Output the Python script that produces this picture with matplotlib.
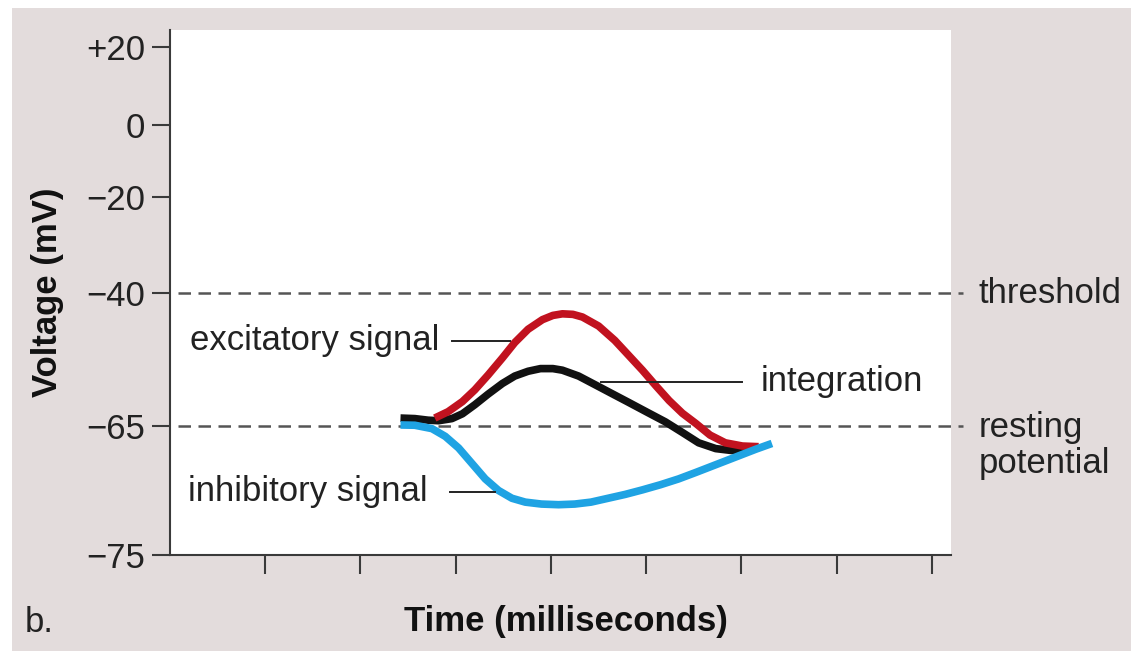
import matplotlib
matplotlib.use("Agg")
import matplotlib.pyplot as plt
from matplotlib.patches import Rectangle
import numpy as np

plt.rcParams['font.family'] = ['Liberation Sans', 'DejaVu Sans']

# tijd (willekeurige eenheden, 1 eenheid = 1 tick) en spanning in mV
exc_t = [2.78, 2.92, 3.07, 3.20, 3.34, 3.49, 3.62, 3.76, 3.91, 4.02, 4.12, 4.23, 4.33, 4.50, 4.67,
         4.81, 4.96, 5.10, 5.24, 5.38, 5.52, 5.67, 5.83, 6.01, 6.18]
exc_v = [-63.5, -62.3, -60.4, -58.2, -55.4, -52.2, -49.3, -46.8, -45.0, -44.2, -43.9, -44.0, -44.5, -46.2, -48.9,
         -51.6, -54.5, -57.4, -60.2, -62.6, -64.5, -65.7, -66.3, -66.55, -66.6]

int_t = [2.42, 2.57, 2.71, 2.82, 2.96, 3.07, 3.20, 3.34, 3.49, 3.62, 3.76, 3.89, 4.02, 4.12, 4.29,
         4.46, 4.64, 4.81, 5.02, 5.20, 5.38, 5.55, 5.73, 5.90, 6.07]
int_v = [-63.5, -63.6, -63.9, -64.0, -63.6, -62.7, -61.0, -59.0, -57.0, -55.6, -54.7, -54.2, -54.2, -54.5, -55.6,
         -57.2, -58.9, -60.5, -62.5, -64.2, -65.5, -66.3, -66.75, -66.9, -66.75]

inh_t = [2.42, 2.57, 2.75, 2.89, 3.03, 3.17, 3.31, 3.45, 3.59, 3.73, 3.90, 4.08, 4.25, 4.42, 4.60,
         4.78, 4.96, 5.15, 5.34, 5.52, 5.73, 5.94, 6.15, 6.32]
inh_v = [-64.8, -64.85, -65.2, -65.8, -66.7, -67.9, -69.1, -70.0, -70.6, -70.9, -71.05, -71.1, -71.05, -70.9, -70.6,
         -70.3, -69.95, -69.55, -69.1, -68.6, -68.0, -67.4, -66.8, -66.35]

threshold = -40
resting = -65

y_ticks = [20, 0, -20, -40, -65, -75]
y_labels = ['+20', '0', '\u221220', '\u221240', '\u221265', '\u221275']
x_ticks = [1, 2, 3, 4, 5, 6, 7, 8]

# schematische (niet-lineaire) y-as
nodes_v = [-75, -65, -40, -20, 0, 20, 40]
nodes_p = [0, 129, 262, 358, 430, 508, 586]


def forward(v):
    return np.interp(v, nodes_v, nodes_p)


def inverse(p):
    return np.interp(p, nodes_p, nodes_v)


W, H = 1131, 651
fig = plt.figure(figsize=(W / 100, H / 100), dpi=100, facecolor='white')
fig.patches.append(Rectangle((12 / W, 0), 1, (H - 8) / H, transform=fig.transFigure,
                             facecolor='#e3dcdc', edgecolor='none', zorder=-10))

ax = fig.add_axes([170 / W, (H - 555) / H, (951 - 170) / W, (555 - 30) / H])
ax.set_facecolor('white')
ax.set_yscale('function', functions=(forward, inverse))
ax.set_xlim(0, 8.2)
ax.set_ylim(-75, 24.4)

for s in ['top', 'right']:
    ax.spines[s].set_visible(False)
for s in ['left', 'bottom']:
    ax.spines[s].set_color('#3a3a3a')
    ax.spines[s].set_linewidth(1.5)

ax.set_yticks(y_ticks)
ax.set_yticklabels(y_labels)
ax.yaxis.set_minor_locator(matplotlib.ticker.NullLocator())
ax.set_xticks(x_ticks)
ax.set_xticklabels([])
ax.tick_params(axis='y', direction='out', length=13, width=1.5, color='#3a3a3a',
               labelsize=25, pad=5, labelcolor='#222222')
ax.tick_params(axis='x', direction='out', length=14, width=1.5, color='#3a3a3a')

# drempel en rustpotentiaal
ax.hlines([threshold, resting], 0.08, 8.33, colors='#555555', linewidth=1.8,
          linestyles=(0, (5, 3)), clip_on=False, zorder=1)

kw = dict(linewidth=5.5, solid_capstyle='butt', solid_joinstyle='round')
ax.plot(int_t, int_v, color='#111111', zorder=3, **kw)
ax.plot(exc_t, exc_v, color='#c1121f', zorder=4, **kw)
ax.plot(inh_t, inh_v, color='#1fa3e3', zorder=5, **kw)

# labels met aanwijslijntjes
fs = 25
ax.text(0.21, -49.0, 'excitatory signal', fontsize=fs, va='center', ha='left', color='#222222')
ax.plot([2.96, 3.57], [-49.0, -49.0], color='#222222', linewidth=1.4, zorder=6)
ax.text(6.2, -56.7, 'integration', fontsize=fs, va='center', ha='left', color='#222222')
ax.plot([4.52, 6.01], [-56.7, -56.7], color='#222222', linewidth=1.4, zorder=6)
ax.text(0.19, -70.1, 'inhibitory signal', fontsize=fs, va='center', ha='left', color='#222222')
ax.plot([2.94, 3.41], [-70.1, -70.1], color='#222222', linewidth=1.4, zorder=6)

ax.text(8.49, threshold, 'threshold', fontsize=fs, va='center', ha='left', color='#222222', clip_on=False)
ax.text(8.49, -65.1, 'resting', fontsize=fs, va='center', ha='left', color='#222222', clip_on=False)
ax.text(8.49, -67.9, 'potential', fontsize=fs, va='center', ha='left', color='#222222', clip_on=False)

fig.text(48 / W, 1 - 292 / H, 'Voltage (mV)', fontsize=fs, fontweight='bold', rotation=90,
         va='center', ha='center', color='#111111')
fig.text(566 / W, 1 - 622 / H, 'Time (milliseconds)', fontsize=fs, fontweight='bold',
         va='center', ha='center', color='#111111')
fig.text(25 / W, 1 - 622 / H, 'b.', fontsize=fs, va='center', ha='left', color='#222222')

fig.savefig('out.png', dpi=100, facecolor=fig.get_facecolor())
